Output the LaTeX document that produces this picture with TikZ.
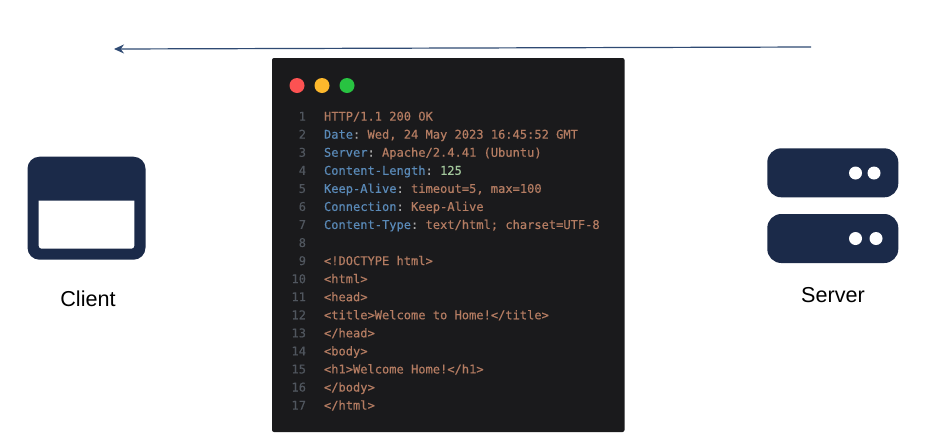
\documentclass[tikz,border=0pt]{standalone}
\usepackage{fontspec}
\setmainfont{Liberation Sans}
\newfontfamily\codefont[FakeBold=0.35]{DejaVu Sans Mono}
\usetikzlibrary{arrows.meta}
\definecolor{navy}{HTML}{1B2A49}
\definecolor{winbg}{HTML}{1A1A1C}
\definecolor{keyc}{HTML}{5A8AB8}
\definecolor{valc}{HTML}{B47C62}
\definecolor{numc}{HTML}{A3C79C}
\definecolor{gutc}{HTML}{50565E}
\definecolor{punc}{HTML}{A8A8A8}
\definecolor{arrowc}{HTML}{2F4A73}
\tikzset{
  box/.style={inner sep=0pt,outer sep=0pt,anchor=north west},
  navybox/.style={box,fill=navy,rounded corners=12pt},
  led/.style={circle,fill=white,inner sep=0pt,outer sep=0pt,minimum size=13pt},
  wdot/.style={circle,inner sep=0pt,outer sep=0pt,minimum size=15pt},
  codeline/.style={anchor=base west,inner sep=0pt,outer sep=0pt,font=\codefont\fontsize{12.05}{14}\selectfont\frenchspacing,text=valc},
  gutter/.style={anchor=base east,inner sep=0pt,outer sep=0pt,font=\codefont\fontsize{12.05}{14}\selectfont,text=gutc},
  label/.style={inner sep=0pt,font=\fontsize{21.6}{26}\selectfont,text=black}
}
\newcommand{\kk}[1]{\textcolor{keyc}{#1}\textcolor{punc}{:}}
\begin{document}
\begin{tikzpicture}[x=1pt,y=-1pt]
\useasboundingbox (0,0) rectangle (935,440);
\fill[white] (0,0) rectangle (935,440);
% arrow
\coordinate (arrowstart) at (811,47);
\coordinate (arrowend) at (114,49);
\draw[arrowc,line width=1.2pt,-{Stealth[length=10pt,width=9pt]}] (arrowstart) -- (arrowend);
% code window
\node[box,fill=winbg,rounded corners=2pt,minimum width=352.5pt,minimum height=374pt] (window) at (272,58) {};
\node[wdot,fill={rgb,255:red,252;green,82;blue,82}] (dotred) at (297,85.5) {};
\node[wdot,fill={rgb,255:red,253;green,184;blue,44}] (dotyellow) at (322,85.5) {};
\node[wdot,fill={rgb,255:red,40;green,195;blue,65}] (dotgreen) at (347,85.5) {};
% gutter
\foreach \n in {1,...,17}{
  \node[gutter] (g\n) at (306,{120.6+18.06*(\n-1)}) {\n};
}
% code
\node[codeline] (l1) at (324,120.6) {HTTP/1.1 200 OK};
\node[codeline] (l2) at (324,138.66) {\kk{Date} Wed, 24 May 2023 16:45:52 GMT};
\node[codeline] (l3) at (324,156.72) {\kk{Server} Apache/2.4.41 (Ubuntu)};
\node[codeline] (l4) at (324,174.78) {\kk{Content-Length} \textcolor{numc}{125}};
\node[codeline] (l5) at (324,192.84) {\kk{Keep-Alive} timeout=5, max=100};
\node[codeline] (l6) at (324,210.9) {\kk{Connection} Keep-Alive};
\node[codeline] (l7) at (324,228.96) {\kk{Content-Type} text/html; charset=UTF-8};
\node[codeline] (l9) at (324,265.08) {<!DOCTYPE html>};
\node[codeline] (l10) at (324,283.14) {<html>};
\node[codeline] (l11) at (324,301.2) {<head>};
\node[codeline] (l12) at (324,319.26) {<title>Welcome to Home!</title>};
\node[codeline] (l13) at (324,337.32) {</head>};
\node[codeline] (l14) at (324,355.38) {<body>};
\node[codeline] (l15) at (324,373.44) {<h1>Welcome Home!</h1>};
\node[codeline] (l16) at (324,391.5) {</body>};
\node[codeline] (l17) at (324,409.56) {</html>};
% client
\node[navybox,minimum width=118pt,minimum height=103pt] (clientbox) at (27.5,156.7) {};
\path[fill=white] (38.7,200.7) -- (134.3,200.7) -- (134.3,245.7) arc[start angle=0,end angle=90,radius=3pt,y radius=-3pt] -- (41.7,248.7) arc[start angle=90,end angle=180,radius=3pt,y radius=-3pt] -- cycle;
\node[label] (client) at (88,299) {Client};
% server
\node[navybox,rounded corners=14pt,minimum width=131pt,minimum height=49pt] (srvtop) at (767.3,148.3) {};
\node[navybox,rounded corners=14pt,minimum width=131pt,minimum height=49pt] (srvbot) at (767.3,214) {};
\node[led] (a1) at (855.5,173) {};
\node[led] (a2) at (874,173) {};
\node[led] (b1) at (855.5,238.5) {};
\node[led] (b2) at (876,238.5) {};
\node[label] (server) at (833,295) {Server};
\end{tikzpicture}
\end{document}
